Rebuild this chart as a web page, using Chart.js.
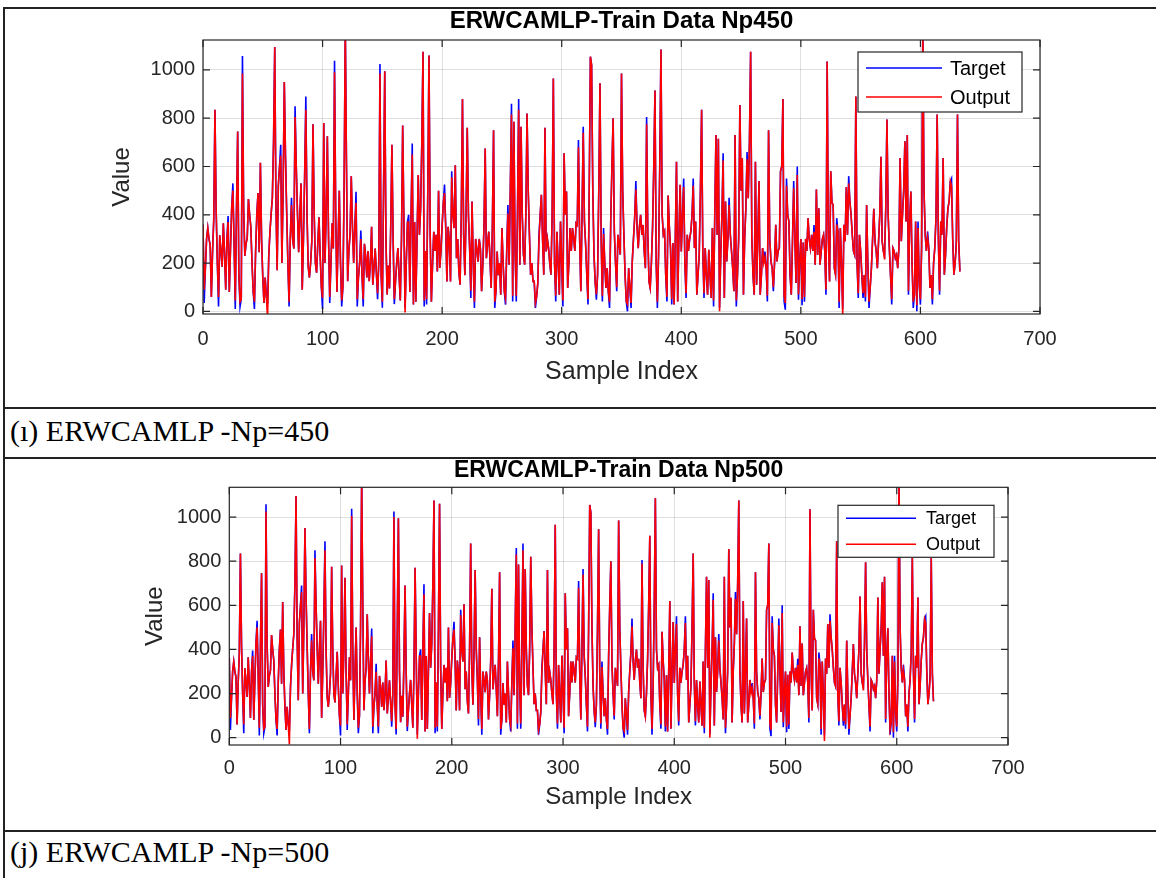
<!DOCTYPE html>
<html><head><meta charset="utf-8">
<script src="https://cdn.jsdelivr.net/npm/chart.js@4.4.0/dist/chart.umd.min.js"></script>
<style>
html,body{margin:0;padding:0;background:#fff;width:1156px;height:878px;overflow:hidden;position:relative;}
.hl{position:absolute;left:3px;width:1153px;height:1.5px;background:#222;}
.vl{position:absolute;top:7px;left:3px;width:1.5px;height:871px;background:#222;}
.cap{position:absolute;left:10px;font-family:"Liberation Serif","Times New Roman",serif;font-size:30px;line-height:30px;white-space:nowrap;color:#000;}
canvas{position:absolute;left:0;}
</style></head><body>
<div class="hl" style="top:7px"></div>
<div class="hl" style="top:407px"></div>
<div class="hl" style="top:457px"></div>
<div class="hl" style="top:830px"></div>
<div class="vl"></div>
<div class="cap" style="top:416px">(ı) ERWCAMLP -Np=450</div>
<div class="cap" style="top:837px">(j) ERWCAMLP -Np=500</div>
<canvas id="c1" width="1156" height="398" style="top:9px"></canvas>
<canvas id="c2" width="1156" height="371" style="top:459px"></canvas>
<script>
const xTicks = [0,100,200,300,400,500,600,700];
const yTicks = [0,200,400,600,800,1000];
const titles = ['ERWCAMLP-Train Data Np450','ERWCAMLP-Train Data Np500'];
const seriesNames = ['Target','Output'];

const target = [
360,35,180,300,345,300,275,60,250,380,
835,420,200,20,315,250,185,365,240,90,
300,395,80,260,430,530,280,10,420,745,
150,20,50,1058,420,230,280,305,465,400,
350,200,80,10,250,400,490,245,615,300,
140,35,140,60,30,230,330,405,470,700,
1095,450,170,520,600,690,200,500,950,640,
410,200,20,300,470,300,260,850,600,410,
245,400,530,90,300,560,890,400,185,140,
200,290,775,400,200,160,280,390,230,100,
10,780,200,400,725,300,35,200,365,260,
1038,400,80,300,500,200,20,100,500,1180,
600,125,250,320,560,350,200,350,495,20,
140,200,335,150,20,280,230,140,250,125,
200,350,110,180,260,160,50,200,1025,150,
15,500,995,300,70,190,95,350,690,300,
30,124,200,262,150,45,300,770,380,15,
200,370,400,80,400,695,28,370,40,300,
565,317,427,700,1075,20,250,28,500,1060,
317,40,200,330,250,317,165,500,180,250,
358,450,525,345,124,350,290,124,580,400,
345,605,220,300,165,110,400,880,317,150,
400,760,400,260,55,455,200,14,300,260,
206,300,260,83,193,350,675,220,280,330,
220,97,350,750,14,83,248,150,200,69,
345,200,83,28,250,440,193,500,860,41,
785,250,41,400,880,193,765,400,235,193,
400,820,500,317,152,200,124,124,14,60,
117,317,400,483,300,152,760,248,300,262,
200,152,400,965,200,41,330,200,69,372,
200,20,655,400,496,97,200,345,250,345,
303,250,365,358,710,300,83,400,765,372,
276,150,28,500,1055,1020,500,235,120,48,
152,500,945,300,41,345,200,97,179,80,
14,372,600,800,331,200,83,317,280,235,
985,500,317,150,41,0,179,100,14,207,
300,386,540,350,262,350,400,317,358,250,
179,805,317,124,97,200,352,600,915,200,
14,234,600,1085,400,317,331,150,41,480,
350,262,28,283,28,300,620,41,303,524,
248,400,550,200,55,317,250,300,331,400,
550,262,372,69,150,235,500,835,250,55,
262,150,69,255,150,55,345,20,400,730,
317,715,15,234,400,655,55,455,207,300,
470,317,250,179,83,730,20,150,303,855,
500,634,69,300,427,660,469,700,1075,303,
150,69,620,110,300,540,69,150,262,200,
248,179,41,750,300,207,179,83,200,359,
207,250,262,580,600,880,41,7,550,400,
372,150,69,290,540,300,117,600,48,200,
300,25,285,40,300,250,386,300,262,317,
250,358,193,505,234,427,193,248,300,317,
250,69,1035,300,124,580,450,441,179,152,
386,331,14,345,200,10,359,290,515,317,
560,455,400,317,250,234,890,200,55,317,
250,152,55,150,41,440,200,14,100,179,
300,425,290,250,179,290,400,640,290,250,
234,427,795,400,262,150,28,262,250,220,
234,179,260,635,290,400,500,705,372,730,
69,372,496,200,14,69,372,0,372,110,
28,262,1180,500,317,250,331,262,97,150,
28,200,262,386,815,300,69,372,317,635,
152,234,350,427,455,538,550,300,152,200,
290,815,290,165
];

const output450 = [
360,90,180,300,345,300,275,60,250,380,
835,420,200,60,315,250,185,365,240,90,
300,370,80,260,430,500,280,45,420,745,
150,40,50,985,420,230,280,305,465,400,
350,200,80,40,250,400,490,245,615,300,
140,35,140,60,-30,230,330,405,470,700,
1095,450,170,520,600,645,200,500,950,640,
410,200,40,300,440,300,260,805,600,410,
245,400,530,90,300,560,835,400,185,140,
200,290,775,400,200,160,280,390,230,100,
55,780,200,400,725,300,60,200,365,260,
990,400,80,300,500,200,45,100,500,1180,
600,125,250,320,560,350,200,350,450,50,
140,200,300,150,50,280,230,140,250,125,
200,350,110,180,260,160,75,200,985,150,
40,500,995,300,70,190,95,350,690,300,
50,124,200,262,150,45,300,770,380,-5,
200,370,370,80,400,650,28,370,40,300,
565,317,427,700,1075,45,250,50,500,1060,
317,40,200,330,250,317,165,500,180,250,
358,450,490,345,124,350,290,124,555,400,
345,605,220,300,165,110,400,880,317,150,
400,760,400,260,85,455,200,40,300,260,
206,300,260,83,193,350,675,220,280,330,
220,97,350,750,40,83,248,150,200,69,
345,200,83,55,250,405,193,500,815,65,
785,250,65,400,835,193,765,400,235,193,
400,820,500,317,152,200,124,124,35,60,
117,295,400,483,300,152,760,248,300,262,
200,152,400,965,200,65,330,200,69,372,
200,45,655,400,496,97,200,345,250,345,
303,250,365,358,680,300,83,400,740,372,
276,150,50,500,1055,1020,500,235,120,70,
152,500,945,300,65,320,200,97,179,80,
40,372,600,800,331,200,100,317,280,235,
985,500,317,150,41,30,179,100,35,207,
300,386,505,350,262,350,400,317,358,250,
179,775,317,124,97,200,352,600,915,200,
40,234,600,1085,400,317,331,150,60,480,
350,262,50,283,28,300,620,41,303,524,
248,400,515,200,75,317,250,300,331,400,
520,262,372,69,150,235,500,835,250,75,
262,150,69,255,150,55,345,45,400,730,
317,715,0,234,400,625,55,455,207,300,
440,317,250,179,83,730,45,150,303,855,
500,634,69,300,427,630,469,700,1075,303,
150,69,620,110,300,540,69,150,262,200,
225,179,65,750,300,207,179,100,200,359,
207,250,262,580,600,880,65,35,520,400,
372,150,69,290,510,300,117,565,70,200,
300,50,285,60,300,250,386,300,262,317,
250,330,193,505,234,427,193,248,300,317,
250,90,1035,300,124,580,450,441,179,152,
360,331,40,345,200,-15,359,290,515,317,
530,455,400,317,250,234,890,200,75,317,
250,152,75,150,60,440,200,40,100,179,
300,425,290,250,179,290,400,640,290,250,
215,427,795,400,262,150,50,262,250,220,
234,179,260,635,290,400,500,705,372,730,
85,372,496,200,40,69,372,25,345,110,
50,262,1180,500,317,250,305,262,97,150,
50,200,262,386,815,300,85,372,317,635,
152,234,350,427,455,538,520,300,152,200,
270,815,290,165
];

const output500 = [
360,90,180,300,345,300,275,60,250,380,
835,420,200,60,315,250,185,365,240,90,
300,370,80,260,430,500,280,45,420,745,
150,40,50,1025,420,230,280,305,465,400,
350,200,80,40,250,400,490,245,615,300,
140,35,140,60,-30,230,330,405,470,700,
1095,450,170,520,600,660,200,500,950,640,
410,200,40,300,440,300,260,815,600,410,
245,400,530,90,300,560,850,400,185,140,
200,290,775,400,200,160,280,390,230,100,
55,780,200,400,725,300,60,200,365,260,
1005,400,80,300,500,200,45,100,500,1180,
600,125,250,320,560,350,200,350,460,50,
140,200,300,150,50,280,230,140,250,125,
200,350,110,180,260,160,75,200,1000,150,
40,500,995,300,70,190,95,350,690,300,
50,124,200,262,150,45,300,770,380,-5,
200,370,370,80,400,650,28,370,40,300,
565,317,427,700,1075,45,250,50,500,1060,
317,40,200,330,250,317,165,500,180,250,
358,450,490,345,124,350,290,124,555,400,
345,605,220,300,165,110,400,880,317,150,
400,760,400,260,85,455,200,40,300,260,
206,300,260,83,193,350,675,220,280,330,
220,97,350,750,40,83,248,150,200,69,
345,200,83,55,250,405,193,500,830,65,
785,250,65,400,850,193,765,400,235,193,
400,820,500,317,152,200,124,124,35,60,
117,295,400,483,300,152,760,248,300,262,
200,152,400,965,200,65,330,200,69,372,
200,45,655,400,496,97,200,345,250,345,
303,250,365,358,680,300,83,400,740,372,
276,150,50,500,1055,1020,500,235,120,70,
152,500,945,300,65,320,200,97,179,80,
40,372,600,800,331,200,100,317,280,235,
985,500,317,150,41,30,179,100,35,207,
300,386,505,350,262,350,400,317,358,250,
179,790,317,124,97,200,352,600,915,200,
40,234,600,1085,400,317,331,150,60,480,
350,262,50,283,28,300,620,41,303,524,
248,400,515,200,75,317,250,300,331,400,
520,262,372,69,150,235,500,835,250,75,
262,150,69,255,150,55,345,45,400,730,
317,715,0,234,400,625,55,455,207,300,
440,317,250,179,83,730,45,150,303,855,
500,634,69,300,427,630,469,700,1075,303,
150,69,620,110,300,540,69,150,262,200,
225,179,65,750,300,207,179,100,200,359,
207,250,262,580,600,880,65,35,520,400,
372,150,69,290,510,300,117,565,70,200,
300,50,285,60,300,250,386,300,262,317,
250,330,193,505,234,427,193,248,300,317,
250,90,1035,300,124,580,450,441,179,152,
360,331,40,345,200,-15,359,290,515,317,
530,455,400,317,250,234,890,200,75,317,
250,152,75,150,60,440,200,40,100,179,
300,425,290,250,179,290,400,640,290,250,
215,427,795,400,262,150,50,262,250,220,
234,179,260,635,290,400,500,705,372,730,
85,372,496,200,40,69,372,25,345,110,
50,262,1180,500,317,250,305,262,97,150,
50,200,262,386,815,300,85,372,317,635,
152,234,350,427,455,538,520,300,152,200,
270,815,290,165
];

Chart.defaults.font.family = '"Liberation Sans", Arial, Helvetica, sans-serif';
Chart.defaults.devicePixelRatio = 1;

function pts(arr){ return arr.map((v,i)=>({x:i,y:v})); }

const boxPlugin = {
  id:'matlabBox',
  afterDatasetsDraw(chart, args, o){
    const {ctx, chartArea:{left,right,top,bottom}, scales:{x,y}} = chart;
    ctx.save();
    ctx.strokeStyle='#262626'; ctx.lineWidth=1.2;
    ctx.strokeRect(left, top, right-left, bottom-top);
    ctx.beginPath();
    xTicks.forEach(v=>{const px=x.getPixelForValue(v); ctx.moveTo(px,bottom); ctx.lineTo(px,bottom-o.tickLen); ctx.moveTo(px,top); ctx.lineTo(px,top+o.tickLen);});
    yTicks.forEach(v=>{const py=y.getPixelForValue(v); ctx.moveTo(left,py); ctx.lineTo(left+o.tickLen,py); ctx.moveTo(right,py); ctx.lineTo(right-o.tickLen,py);});
    ctx.stroke();
    const L = o.legend;
    const bx = right - L.right - L.w, by = top + L.top;
    ctx.fillStyle='#fff'; ctx.fillRect(bx,by,L.w,L.h);
    ctx.lineWidth=1.2; ctx.strokeStyle='#262626'; ctx.strokeRect(bx,by,L.w,L.h);
    chart.data.datasets.forEach((ds,i)=>{
      const ly = by + L.rows[i];
      ctx.strokeStyle = ds.borderColor; ctx.lineWidth=1.6;
      ctx.beginPath(); ctx.moveTo(bx+L.x0, ly); ctx.lineTo(bx+L.x1, ly); ctx.stroke();
      ctx.fillStyle='#000'; ctx.font = L.font; ctx.textBaseline='middle'; ctx.textAlign='left';
      ctx.fillText(ds.label, bx+L.tx, ly+1);
    });
    ctx.restore();
  }
};

function makeChart(id, cfg){
  new Chart(document.getElementById(id), {
    type:'line',
    data:{datasets:[
      {label:seriesNames[0], data:pts(cfg.t), borderColor:'#0000ff', borderWidth:1.6, pointRadius:0, tension:0, order:1, clip:0},
      {label:seriesNames[1], data:pts(cfg.o), borderColor:'#ff0000', borderWidth:1.6, pointRadius:0, tension:0, order:0, clip:0}
    ]},
    options:{
      responsive:false, animation:false, devicePixelRatio:1,
      layout:{padding:{left:cfg.padL, right:cfg.padR, top:0, bottom:0}},
      plugins:{
        legend:{display:false}, tooltip:{enabled:false},
        title:{display:true, text:cfg.title, fullSize:false, color:'#000',
          font:{size:cfg.titleSize, weight:'bold', lineHeight:1.0}, padding:{top:0,bottom:cfg.titlePadB}},
        matlabBox:{tickLen:7, legend:cfg.legend}
      },
      scales:{
        x:{type:'linear', min:0, max:700,
          afterBuildTicks:s=>{s.ticks = xTicks.map(v=>({value:v}));},
          afterFit:s=>{s.height = cfg.xH;},
          grid:{color:'rgba(38,38,38,0.15)', drawTicks:false, lineWidth:1},
          border:{display:false},
          ticks:{padding:cfg.xTickPad, color:'#262626', font:{size:cfg.tickSize}, maxRotation:0, autoSkip:false, callback:v=>String(v)},
          title:{display:true, text:'Sample Index', color:'#262626', font:{size:cfg.xTitleSize}, padding:{top:0,bottom:cfg.xTitlePadB}}
        },
        y:{type:'linear', min:cfg.yMin, max:cfg.yMax,
          afterBuildTicks:s=>{s.ticks = yTicks.map(v=>({value:v}));},
          afterFit:s=>{s.width = cfg.yW;},
          grid:{color:'rgba(38,38,38,0.15)', drawTicks:false, lineWidth:1},
          border:{display:false},
          ticks:{padding:8, color:'#262626', font:{size:cfg.tickSize}, autoSkip:false, callback:v=>String(v)},
          title:{display:true, text:'Value', color:'#262626', font:{size:24}, padding:{top:cfg.yTitlePadT,bottom:0}}
        }
      }
    },
    plugins:[boxPlugin]
  });
}

makeChart('c1', {t:target, o:output450, title:titles[0], titleSize:24, titlePadB:7,
  padL:100, padR:116, yW:103, yTitlePadT:7.6, xH:93, xTitleSize:25, xTitlePadB:20, xTickPad:13, tickSize:20,
  yMin:-11, yMax:1124,
  legend:{right:18, top:12, w:164, h:60, x0:8, x1:84, tx:92, rows:[16,45], font:'20px "Liberation Sans", Arial, sans-serif'}});

makeChart('c2', {t:target, o:output500, title:titles[1], titleSize:23, titlePadB:5.3,
  padL:130, padR:148, yW:99.3, yTitlePadT:10.6, xH:85, xTitleSize:24, xTitlePadB:18.6, xTickPad:11, tickSize:20,
  yMin:-33, yMax:1135,
  legend:{right:14, top:18, w:156, h:52, x0:8, x1:78, tx:88, rows:[13,39], font:'18px "Liberation Sans", Arial, sans-serif'}});
</script>
</body></html>
